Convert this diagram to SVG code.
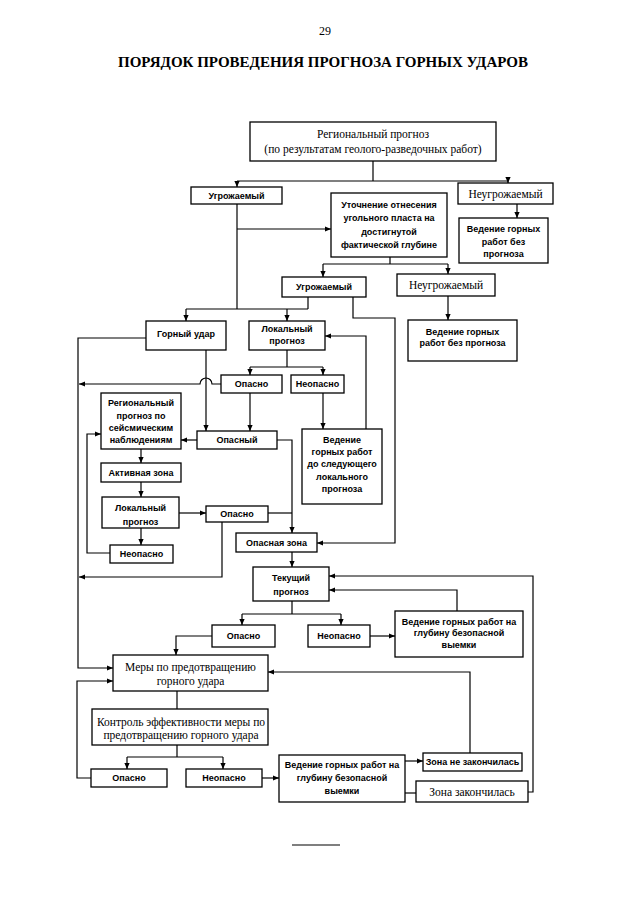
<svg xmlns="http://www.w3.org/2000/svg" width="640" height="905" viewBox="0 0 640 905">
<style>
.box{fill:#fff;stroke:#000;stroke-width:1.3}
.s{font-family:"Liberation Sans",Arial,sans-serif;font-weight:bold;font-size:9px;text-anchor:middle;fill:#000}
.r{font-family:"Liberation Serif","Times New Roman",serif;font-size:11.5px;text-anchor:middle;fill:#000}
.ln{fill:none;stroke:#000;stroke-width:1.2}
.a{marker-end:url(#ah)}
</style>
<defs>
<marker id="ah" viewBox="0 0 6 6" refX="6" refY="3" markerWidth="6" markerHeight="6" orient="auto" markerUnits="userSpaceOnUse">
<path d="M0,0.4 L6,3 L0,5.6 z" fill="#000"/>
</marker>
</defs>
<rect width="640" height="905" fill="#fff"/>
<text x="325" y="35" font-family="Liberation Serif, serif" font-size="12" text-anchor="middle">29</text>
<text x="323" y="67" font-family="Liberation Serif, serif" font-size="15" font-weight="bold" text-anchor="middle" textLength="410" lengthAdjust="spacingAndGlyphs">ПОРЯДОК ПРОВЕДЕНИЯ ПРОГНОЗА ГОРНЫХ УДАРОВ</text>

<g id="connectors">
<path class="ln" d="M373,161 V181 M237,181 H508"/>
<path class="ln a" d="M237,181 V187"/>
<path class="ln a" d="M508,181 V183"/>
<path class="ln" d="M237,204 V309"/>
<path class="ln a" d="M237,229 H331"/>
<path class="ln a" d="M517,204 V218"/>
<path class="ln" d="M390,257 V264 M323,264 H448"/>
<path class="ln a" d="M323,264 V277"/>
<path class="ln a" d="M448,264 V274"/>
<path class="ln" d="M308,297 V309 M186,309 H308"/>
<path class="ln a" d="M186,309 V321"/>
<path class="ln a" d="M287,309 V321"/>
<path class="ln a" d="M353,297 V318 H395 V543 H317"/>
<path class="ln a" d="M448,296 V320"/>
<path class="ln a" d="M146,338 H78 V668 H113"/>
<path class="ln a" d="M206,350 V431"/>
<path class="ln a" d="M221,384 H212 A6,6 0 0 0 200,384 H79"/>
<path class="ln" d="M287,350 V367 M250,367 H323"/>
<path class="ln a" d="M250,367 V375"/>
<path class="ln a" d="M323,367 V375"/>
<path class="ln a" d="M366,429 V336 H325"/>
<path class="ln a" d="M250,393 V431"/>
<path class="ln a" d="M323,393 V429"/>
<path class="ln a" d="M197,440 H181"/>
<path class="ln a" d="M277,440 H292 V533"/>
<path class="ln a" d="M141,449 V463"/>
<path class="ln a" d="M141,482 V497"/>
<path class="ln a" d="M179,513 H206"/>
<path class="ln a" d="M141,528 V545"/>
<path class="ln" d="M268,513 H292"/>
<path class="ln a" d="M222,522 V577 H79"/>
<path class="ln a" d="M110,553 H87 V434 H101"/>
<path class="ln a" d="M292,552 V567"/>
<path class="ln" d="M292,601 V614 M242,614 H341"/>
<path class="ln a" d="M242,614 V625"/>
<path class="ln a" d="M341,614 V625"/>
<path class="ln a" d="M528,792 H533 V576 H329"/>
<path class="ln a" d="M457,611 V590 H329"/>
<path class="ln a" d="M370,636 H395"/>
<path class="ln a" d="M212,636 H176 V655"/>
<path class="ln" d="M177,691 V709"/>
<path class="ln" d="M177,745 V757 M127,757 H223"/>
<path class="ln a" d="M127,757 V769"/>
<path class="ln a" d="M223,757 V769"/>
<path class="ln a" d="M91,778 H77 V681 H113"/>
<path class="ln a" d="M262,778 H279"/>
<path class="ln a" d="M405,761 H423"/>
<path class="ln" d="M405,793 H416"/>
<path class="ln a" d="M470,753 V672 H268"/>
</g>

<g id="n1"><rect class="box" x="250" y="122" width="246" height="39"/><text class="r" x="373" y="138">Региональный прогноз</text><text class="r" x="373" y="153">(по результатам геолого-разведочных работ)</text></g>
<g id="n2"><rect class="box" x="191" y="187" width="91" height="17"/><text class="s" x="236.5" y="198.7">Угрожаемый</text></g>
<g id="n3"><rect class="box" x="458" y="183" width="95" height="21"/><text class="r" x="505.5" y="197.5">Неугрожаемый</text></g>
<g id="n4"><rect class="box" x="331" y="193" width="116" height="64"/><text class="s" x="389" y="208.2">Уточнение отнесения</text><text class="s" x="389" y="221.2">угольного пласта на</text><text class="s" x="389" y="235.2">достигнутой</text><text class="s" x="389" y="248.2">фактической глубине</text></g>
<g id="n5"><rect class="box" x="459" y="218" width="89" height="45"/><text class="s" x="503.5" y="232.2">Ведение горных</text><text class="s" x="503.5" y="245.2">работ без</text><text class="s" x="503.5" y="257.2">прогноза</text></g>
<g id="n6"><rect class="box" x="282" y="277" width="84" height="20"/><text class="s" x="324" y="290.2">Угрожаемый</text></g>
<g id="n7"><rect class="box" x="397" y="274" width="98" height="22"/><text class="r" x="446" y="289">Неугрожаемый</text></g>
<g id="n8"><rect class="box" x="408" y="320" width="109" height="41"/><text class="s" x="462.5" y="335.2">Ведение горных</text><text class="s" x="462.5" y="346.2">работ без прогноза</text></g>
<g id="n9"><rect class="box" x="146" y="321" width="80" height="29"/><text class="s" x="186" y="337.2">Горный удар</text></g>
<g id="n10"><rect class="box" x="249" y="321" width="76" height="29"/><text class="s" x="287" y="332.2">Локальный</text><text class="s" x="287" y="344.2">прогноз</text></g>
<g id="n11"><rect class="box" x="221" y="375" width="61" height="18"/><text class="s" x="251.5" y="387.2">Опасно</text></g>
<g id="n12"><rect class="box" x="291" y="375" width="53" height="18"/><text class="s" x="317.5" y="387.2">Неопасно</text></g>
<g id="n13"><rect class="box" x="197" y="431" width="80" height="18"/><text class="s" x="237" y="443.2">Опасный</text></g>
<g id="n14"><rect class="box" x="302" y="429" width="80" height="75"/><text class="s" x="342" y="443.2">Ведение</text><text class="s" x="342" y="455.2">горных работ</text><text class="s" x="342" y="467.2">до следующего</text><text class="s" x="342" y="480.2">локального</text><text class="s" x="342" y="492.2">прогноза</text></g>
<g id="n15"><rect class="box" x="101" y="393" width="80" height="56"/><text class="s" x="141" y="406.2">Региональный</text><text class="s" x="141" y="419.2">прогноз по</text><text class="s" x="141" y="431.2">сейсмическим</text><text class="s" x="141" y="443.2">наблюдениям</text></g>
<g id="n16"><rect class="box" x="101" y="463" width="80" height="19"/><text class="s" x="141" y="475.7">Активная зона</text></g>
<g id="n17"><rect class="box" x="102" y="497" width="77" height="31"/><text class="s" x="140.5" y="511.2">Локальный</text><text class="s" x="140.5" y="525.2">прогноз</text></g>
<g id="n18"><rect class="box" x="206" y="506" width="62" height="16"/><text class="s" x="237" y="517.2">Опасно</text></g>
<g id="n19"><rect class="box" x="110" y="545" width="63" height="18"/><text class="s" x="141.5" y="557.2">Неопасно</text></g>
<g id="n20"><rect class="box" x="236" y="533" width="81" height="19"/><text class="s" x="276.5" y="545.7">Опасная зона</text></g>
<g id="n21"><rect class="box" x="253" y="567" width="76" height="34"/><text class="s" x="291" y="581.2">Текущий</text><text class="s" x="291" y="595.2">прогноз</text></g>
<g id="n22"><rect class="box" x="212" y="625" width="63" height="22"/><text class="s" x="243.5" y="639.2">Опасно</text></g>
<g id="n23"><rect class="box" x="308" y="625" width="62" height="22"/><text class="s" x="339" y="639.2">Неопасно</text></g>
<g id="n24"><rect class="box" x="395" y="611" width="128" height="46"/><text class="s" x="459" y="625.2">Ведение горных работ на</text><text class="s" x="459" y="636.2">глубину безопасной</text><text class="s" x="459" y="648.2">выемки</text></g>
<g id="n25"><rect class="box" x="113" y="655" width="155" height="36"/><text class="r" x="190.5" y="671">Меры по предотвращению</text><text class="r" x="190.5" y="685">горного удара</text></g>
<g id="n26"><rect class="box" x="92" y="709" width="176" height="36"/><text class="r" x="181" y="726">Контроль эффективности меры по</text><text class="r" x="181" y="739">предотвращению горного удара</text></g>
<g id="n27"><rect class="box" x="91" y="769" width="76" height="18"/><text class="s" x="129" y="781.2">Опасно</text></g>
<g id="n28"><rect class="box" x="186" y="769" width="76" height="18"/><text class="s" x="224" y="781.2">Неопасно</text></g>
<g id="n29"><rect class="box" x="279" y="755" width="126" height="47"/><text class="s" x="342" y="768.2">Ведение горных работ на</text><text class="s" x="342" y="781.2">глубину безопасной</text><text class="s" x="342" y="794.2">выемки</text></g>
<g id="n30"><rect class="box" x="423" y="753" width="99" height="18"/><text class="s" x="472.5" y="765.2">Зона не закончилась</text></g>
<g id="n31"><rect class="box" x="416" y="781" width="112" height="21"/><text class="r" x="472" y="795.5">Зона закончилась</text></g>
<path class="ln" d="M292,845 H340"/>
</svg>
